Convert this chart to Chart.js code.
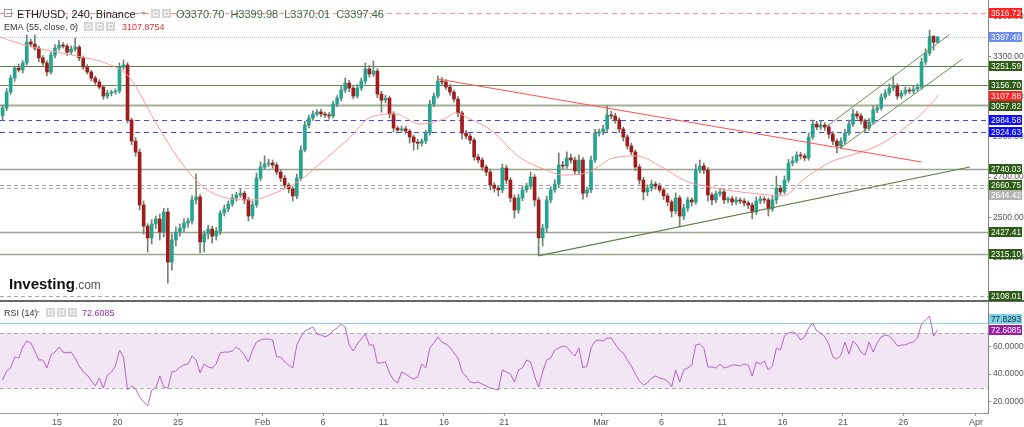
<!DOCTYPE html>
<html>
<head>
<meta charset="utf-8">
<script src="https://cdn.jsdelivr.net/npm/chart.js@4.4.1/dist/chart.umd.min.js"></script>
<style>
  html, body { margin: 0; padding: 0; background: #fff; }
</style>
</head>
<body>
<canvas id="ethChart" width="1024" height="427"></canvas>
<script>
// x axis: days counted from Jan 1 2022 (0 = Jan 1)
const tickDays = [14, 19, 24, 31, 36, 41, 46, 51, 59, 64, 69, 74, 79, 84, 90];
const tickLabels = ['15', '20', '25', 'Feb', '6', '11', '16', '21', 'Mar', '6', '11', '16', '21', '26', 'Apr'];
const priceTicks = [3500, 3400, 3300, 3200, 3100, 3000, 2900, 2800, 2700, 2600, 2500, 2400, 2300, 2200];
const rsiTicks = [20, 40, 60];

// 8h candles starting Jan 10 12:00
const candleStart = 9.5;
const firstOpen = 3005;
const closes = [
  3044, 3123, 3193, 3243, 3233, 3268, 3372, 3362, 3342, 3293,
  3268, 3223, 3307, 3342, 3357, 3352, 3322, 3337, 3347, 3293,
  3248, 3223, 3193, 3173, 3148, 3103, 3118, 3123, 3128, 3248,
  3258, 2984, 2879, 2824, 2561, 2456, 2397, 2466, 2491, 2426,
  2526, 2277, 2387, 2426, 2446, 2471, 2481, 2586, 2601, 2377,
  2417, 2441, 2406, 2431, 2521, 2541, 2566, 2596, 2611, 2620,
  2586, 2506, 2561, 2695, 2750, 2765, 2770, 2760, 2725, 2695,
  2660, 2641, 2606, 2695, 2835, 2959, 2994, 3014, 3024, 3014,
  3009, 3004, 3063, 3093, 3133, 3168, 3143, 3103, 3143, 3178,
  3238, 3213, 3228, 3113, 3083, 3093, 3014, 2944, 2934, 2940,
  2929, 2899, 2874, 2868, 2879, 2919, 3063, 3103, 3178, 3173,
  3148, 3123, 3088, 3019, 2919, 2904, 2884, 2800, 2785, 2750,
  2725, 2660, 2645, 2636, 2745, 2685, 2596, 2536, 2596, 2636,
  2655, 2700, 2586, 2397, 2446, 2586, 2636, 2665, 2760, 2755,
  2795, 2785, 2730, 2785, 2620, 2636, 2785, 2919, 2924, 2939,
  3009, 3004, 2984, 2939, 2899, 2855, 2825, 2750, 2685, 2626,
  2645, 2665, 2655, 2636, 2606, 2576, 2531, 2596, 2506, 2546,
  2586, 2576, 2735, 2755, 2735, 2611, 2586, 2616, 2626, 2586,
  2592, 2576, 2586, 2581, 2571, 2561, 2526, 2581, 2591, 2586,
  2541, 2586, 2645, 2626, 2685, 2770, 2780, 2810, 2805, 2795,
  2899, 2964, 2949, 2959, 2949, 2914, 2879, 2855, 2879, 2919,
  2964, 3014, 3004, 2979, 2944, 2974, 3034, 3044, 3098, 3118,
  3143, 3153, 3103, 3118, 3133, 3128, 3138, 3148, 3273, 3317,
  3400, 3371, 3397.46
];
const wickUp = [
  15, 18, 14, 10, 20, 12, 35, 14, 45, 10,
  12, 10, 14, 18, 22, 12, 10, 16, 45, 8,
  10, 12, 8, 10, 12, 6, 14, 10, 12, 20,
  25, 12, 10, 18, 15, 20, 12, 22, 15, 25,
  18, 20, 30, 25, 20, 22, 15, 20, 115, 12,
  15, 20, 14, 18, 12, 20, 15, 18, 14, 22,
  10, 14, 20, 25, 25, 40, 18, 15, 12, 10,
  14, 10, 12, 20, 20, 18, 14, 16, 12, 14,
  10, 12, 15, 12, 20, 25, 14, 10, 18, 15,
  30, 18, 50, 12, 14, 15, 10, 12, 10, 14,
  12, 8, 10, 14, 12, 15, 20, 15, 25, 18,
  12, 14, 10, 12, 10, 14, 12, 10, 14, 12,
  10, 15, 12, 10, 20, 14, 12, 15, 18, 20,
  15, 25, 12, 14, 18, 20, 16, 22, 60, 18,
  30, 20, 15, 25, 12, 14, 20, 18, 15, 20,
  45, 18, 14, 12, 10, 12, 14, 10, 12, 14,
  16, 20, 12, 14, 10, 12, 10, 25, 12, 18,
  14, 12, 30, 30, 15, 12, 10, 14, 18, 12,
  10, 12, 14, 10, 12, 10, 12, 20, 14, 12,
  10, 20, 60, 14, 20, 18, 22, 16, 14, 12,
  20, 20, 14, 18, 12, 10, 12, 10, 16, 18,
  20, 25, 14, 12, 10, 18, 20, 15, 16, 18,
  20, 45, 12, 14, 16, 12, 14, 16, 20, 22,
  32, 5, 2.5
];
const wickDown = [
  20, 14, 12, 16, 10, 15, 10, 14, 12, 18,
  12, 20, 10, 14, 12, 10, 16, 12, 10, 14,
  12, 10, 14, 12, 10, 16, 12, 14, 10, 10,
  12, 15, 18, 20, 25, 40, 70, 30, 22, 40,
  25, 105, 40, 30, 20, 18, 22, 15, 20, 55,
  50, 25, 35, 20, 18, 15, 14, 12, 16, 12,
  18, 25, 15, 12, 14, 10, 12, 16, 14, 18,
  15, 20, 25, 14, 12, 10, 14, 12, 10, 15,
  12, 16, 10, 12, 14, 12, 18, 14, 10, 12,
  14, 16, 12, 18, 60, 14, 18, 20, 16, 12,
  14, 30, 40, 30, 14, 12, 10, 12, 10, 14,
  12, 16, 14, 20, 30, 14, 18, 16, 14, 16,
  18, 25, 20, 30, 14, 18, 20, 40, 16, 14,
  12, 15, 30, 90, 40, 20, 14, 12, 18, 14,
  12, 16, 18, 14, 30, 20, 14, 12, 16, 14,
  12, 14, 16, 18, 20, 16, 14, 18, 20, 40,
  18, 14, 16, 12, 18, 20, 30, 14, 55, 18,
  16, 20, 12, 14, 18, 30, 25, 14, 12, 18,
  14, 16, 12, 14, 16, 18, 35, 12, 14, 16,
  35, 12, 18, 14, 10, 12, 14, 10, 16, 14,
  12, 10, 14, 12, 16, 20, 18, 35, 12, 14,
  10, 12, 14, 16, 20, 12, 10, 14, 12, 10,
  12, 14, 16, 12, 10, 14, 12, 10, 10, 14,
  12, 40, 1
];
const rsiValues = [
  35.7, 42.3, 44.5, 52.6, 51.8, 59.9, 64.3, 62.9, 57.0, 50.4,
  50.4, 44.5, 54.0, 56.2, 59.9, 56.2, 55.5, 56.2, 51.8, 46.0,
  41.6, 39.3, 35.0, 31.3, 37.1, 29.8, 39.3, 41.6, 46.0, 57.7,
  52.6, 28.3, 31.3, 29.1, 23.2, 19.5, 16.6, 28.3, 29.8, 38.6,
  30.5, 29.8, 41.6, 42.3, 45.2, 46.7, 47.4, 53.3, 50.4, 40.8,
  47.4, 45.2, 44.5, 47.4, 55.5, 56.2, 56.2, 57.0, 59.9, 57.7,
  54.0, 48.9, 57.7, 63.6, 65.1, 65.8, 65.8, 65.1, 52.6, 52.6,
  48.9, 46.7, 44.5, 61.4, 67.3, 71.7, 73.2, 74.6, 69.5, 68.8,
  67.3, 68.8, 71.7, 73.9, 76.8, 74.6, 61.4, 57.0, 62.1, 65.8,
  69.5, 61.4, 61.4, 48.2, 48.2, 48.9, 40.8, 35.7, 33.5, 41.6,
  40.1, 37.9, 36.4, 37.9, 47.4, 44.5, 59.2, 62.9, 67.3, 63.6,
  62.1, 59.9, 55.5, 51.8, 41.6, 38.6, 34.2, 33.5, 34.2, 32.7,
  31.3, 29.8, 29.1, 28.3, 43.0, 41.6, 40.1, 34.2, 43.0, 44.5,
  50.4, 48.9, 38.6, 30.5, 41.6, 50.4, 51.8, 57.7, 59.2, 60.7,
  59.9, 56.2, 53.3, 59.2, 44.5, 46.0, 59.2, 64.3, 65.1, 64.3,
  66.5, 66.5, 62.1, 57.7, 55.5, 50.4, 46.0, 40.1, 35.0, 32.0,
  33.5, 37.1, 38.6, 37.1, 36.4, 35.0, 30.5, 43.0, 34.2, 43.0,
  44.5, 46.7, 61.4, 62.1, 59.2, 45.2, 45.2, 44.5, 47.4, 44.5,
  45.2, 46.7, 46.7, 46.0, 47.4, 46.7, 38.6, 48.9, 47.4, 49.6,
  43.0, 46.0, 59.2, 57.7, 68.0, 70.2, 71.0, 69.5, 65.1, 67.3,
  73.9, 77.6, 71.7, 70.2, 67.3, 62.1, 52.6, 51.1, 54.0, 63.6,
  54.7, 64.3, 61.4, 56.2, 54.0, 63.6, 56.2, 62.9, 67.3, 68.8,
  68.0, 65.1, 60.7, 61.4, 61.4, 62.9, 63.6, 66.5, 76.8, 79.8,
  82.7, 68.0, 72.6
];

// EMA(55)
const emaDays = [9.3, 10, 12, 14, 16, 18, 20, 22, 24, 26, 28, 30, 32, 34, 36, 38, 40, 42, 44, 46,
  47, 48, 50, 52, 54, 56, 58, 60, 62, 64, 66, 68, 70, 72, 74, 76, 78, 80, 82, 84, 86, 86.9];
const emaValues = [3399, 3382, 3347, 3322, 3298, 3268, 3195, 2989, 2795, 2655, 2596, 2586, 2620, 2680, 2780, 2884, 2999, 3014, 2964, 2989,
  3020, 2994, 2929, 2810, 2745, 2710, 2725, 2795, 2805, 2750, 2680, 2650, 2630, 2616, 2606, 2700, 2775, 2815, 2860, 2939, 3044, 3108];

// horizontal levels
const levelPrices = [3516.72, 3397.46, 3251.59, 3156.70, 3057.82, 2984.58, 2924.63, 2740.03, 2660.75, 2644.42, 2427.41, 2315.10, 2108.01];
const emaLast = 3107.88;

// trend lines [day, price]
const resistanceLine = [[45.5, 3188], [85.5, 2775]];
const supportLine = [[53.9, 2309], [89.5, 2750]];
const channelTop = [[77.7, 2954], [87.8, 3409]];
const channelBottom = [[78.8, 2845], [88.9, 3288]];

// RSI guides
const rsiBand = [70, 30];
const rsiMarker = 77.8293;
const rsiLast = 72.6085;

// ---- styles ----
function hasFont(name) {
  const c = document.createElement('canvas').getContext('2d');
  c.font = '20px monospace';
  const a = c.measureText('3516.72 Feb Mar').width;
  c.font = "20px '" + name + "', monospace";
  return c.measureText('3516.72 Feb Mar').width !== a;
}
const uiFont = "'Liberation Sans', Arial, sans-serif";
const hasNarrow = hasFont('Liberation Sans Narrow');
const axisFont = hasNarrow ? "'Liberation Sans Narrow', sans-serif" : uiFont;
const axisSize = hasNarrow ? 9 : 8.5;
const UP = '#25a48f';
const DOWN = '#a01b1b';
const levelStyles = [
  { color: '#ff8c8c', dash: [5, 4], width: 1, box: '#ff2020' },
  { color: '#aab9f2', dash: [1, 1], width: 1, box: '#6d8ded' },
  { color: '#5c7c45', dash: [], width: 1, box: '#2d5c15' },
  { color: '#6b8757', dash: [], width: 1, box: '#2d5c15' },
  { color: '#a3ae98', dash: [], width: 2, box: '#2d5c15' },
  { color: '#4646f5', dash: [5, 4], width: 1, box: '#0a0aff' },
  { color: '#4646f5', dash: [5, 4], width: 1, box: '#0a0aff' },
  { color: '#97a38b', dash: [], width: 1.5, box: '#2d5c15' },
  { color: '#a6a6a6', dash: [4, 3], width: 1, box: '#2d5c15' },
  { color: '#b0b0b0', dash: [4, 3], width: 1, box: '#b4b4b4' },
  { color: '#97a38b', dash: [], width: 1.5, box: '#2d5c15' },
  { color: '#97a38b', dash: [], width: 1.5, box: '#2d5c15' },
  { color: '#a6a6a6', dash: [4, 3], width: 1, box: '#2d5c15' }
];

// build candle data
const candleDay = i => candleStart + i / 3;
const opens = closes.map((c, i) => i === 0 ? firstOpen : closes[i - 1]);
const bodyData = closes.map((c, i) => ({ x: candleDay(i), y: [opens[i], c] }));
const wickData = closes.map((c, i) => ({
  x: candleDay(i),
  y: [Math.min(opens[i], c) - wickDown[i], Math.max(opens[i], c) + wickUp[i]]
}));
const rsiData = rsiValues.map((v, i) => ({ x: candleDay(i), y: v }));
const emaData = emaDays.map((d, i) => ({ x: d, y: emaValues[i] }));
const toPts = line => line.map(p => ({ x: p[0], y: p[1] }));
const candleColor = c => closes[c.dataIndex] >= opens[c.dataIndex] ? UP : DOWN;

function drawBox(ctx, x, yc, w, h, bg, fg, text) {
  const top = Math.round(yc - h / 2);
  ctx.fillStyle = bg;
  ctx.fillRect(x, top, w, h);
  ctx.fillStyle = fg;
  ctx.textAlign = 'left';
  ctx.textBaseline = 'middle';
  const tw = ctx.measureText(text).width;
  const room = w - 3;
  ctx.save();
  ctx.translate(x + 2, top + h / 2 + 0.5);
  if (tw > room) ctx.scale(room / tw, 1);
  ctx.fillText(text, 0, 0);
  ctx.restore();
}

function smallIcon(ctx, x, y) {
  ctx.fillStyle = '#d6d6d6';
  ctx.fillRect(x, y, 9, 9);
  ctx.strokeStyle = '#f4f4f4';
  ctx.lineWidth = 1;
  ctx.strokeRect(x + 2.5, y + 2.5, 4, 4);
}

function dropArrow(ctx, x, y) {
  ctx.fillStyle = '#aaa';
  ctx.beginPath();
  ctx.moveTo(x, y); ctx.lineTo(x + 6, y); ctx.lineTo(x + 3, y + 3);
  ctx.closePath();
  ctx.fill();
}

const overlay = {
  id: 'overlay',
  beforeDatasetsDraw(chart) {
    const { ctx, chartArea: a, scales } = chart;
    const py = scales.y, ry = scales.yRsi;
    ctx.save();
    // RSI band
    const y70 = ry.getPixelForValue(rsiBand[0]);
    const y30 = ry.getPixelForValue(rsiBand[1]);
    ctx.fillStyle = '#f2e5f4';
    ctx.fillRect(a.left, y70, a.right - a.left, y30 - y70);
    ctx.strokeStyle = '#b0a6b0';
    ctx.lineWidth = 1;
    ctx.setLineDash([4, 3]);
    [y70, y30].forEach(yy => {
      ctx.beginPath();
      ctx.moveTo(a.left, Math.round(yy) + 0.5);
      ctx.lineTo(a.right, Math.round(yy) + 0.5);
      ctx.stroke();
    });
    ctx.setLineDash([]);
    const ym = Math.round(ry.getPixelForValue(rsiMarker)) + 0.5;
    ctx.strokeStyle = '#8ed2e2';
    ctx.beginPath(); ctx.moveTo(a.left, ym); ctx.lineTo(a.right, ym); ctx.stroke();

    // price levels
    levelPrices.forEach((v, i) => {
      const s = levelStyles[i];
      const yy = Math.round(py.getPixelForValue(v)) + 0.5;
      ctx.strokeStyle = s.color;
      ctx.lineWidth = s.width;
      ctx.setLineDash(s.dash);
      ctx.beginPath();
      ctx.moveTo(a.left, yy);
      ctx.lineTo(a.right, yy);
      ctx.stroke();
    });
    ctx.restore();
  },
  afterDraw(chart) {
    const { ctx, chartArea: a, scales } = chart;
    const py = scales.y, ry = scales.yRsi;
    ctx.save();

    // panel separator
    ctx.fillStyle = '#666';
    ctx.fillRect(0, Math.round(py.bottom) - 1, 1024, 2);

    // price axis boxes
    ctx.font = '9px ' + axisFont;
    const boxes = levelPrices.map((v, i) => ({ v, y: py.getPixelForValue(v), bg: levelStyles[i].box }));
    boxes.push({ v: emaLast, y: py.getPixelForValue(emaLast), bg: '#ff2020' });
    boxes.sort((p, q) => p.y - q.y);
    for (let i = 1; i < boxes.length; i++) {
      if (boxes[i].y - boxes[i - 1].y < 10.5) boxes[i].y = boxes[i - 1].y + 10.5;
    }
    boxes.forEach(b => drawBox(ctx, a.right + 1, b.y, 33, 10, b.bg, '#fff', b.v.toFixed(2)));

    // RSI axis boxes
    const yLast = ry.getPixelForValue(rsiLast);
    const yMark = Math.min(ry.getPixelForValue(rsiMarker), yLast - 11);
    drawBox(ctx, a.right + 1, yMark, 33, 10, '#7fd0e2', '#10303c', rsiMarker.toFixed(4));
    drawBox(ctx, a.right + 1, yLast, 33, 10, '#9b1fa6', '#fff', rsiLast.toFixed(4));

    // header
    ctx.textAlign = 'left';
    ctx.textBaseline = 'alphabetic';
    ctx.strokeStyle = '#999';
    ctx.lineWidth = 1;
    ctx.strokeRect(4.5, 9.5, 7, 7);
    ctx.beginPath(); ctx.moveTo(6, 13.5); ctx.lineTo(10, 13.5); ctx.stroke();
    ctx.font = '11px ' + uiFont;
    ctx.fillStyle = '#222';
    ctx.fillText('ETH/USD, 240, Binance', 17, 18);
    dropArrow(ctx, 140, 12);
    smallIcon(ctx, 151, 9);
    smallIcon(ctx, 162, 9);
    ctx.fillStyle = '#3a6a45';
    ctx.fillText('O3370.70  H3399.98  L3370.01  C3397.46', 176, 18);

    ctx.font = '9px ' + uiFont;
    ctx.fillStyle = '#333';
    ctx.fillText('EMA (55, close, 0)', 4, 30);
    dropArrow(ctx, 72, 25);
    smallIcon(ctx, 84, 22);
    smallIcon(ctx, 95, 22);
    smallIcon(ctx, 106, 22);
    ctx.fillStyle = '#e53030';
    ctx.fillText('3107.8754', 122, 30);

    ctx.fillStyle = '#333';
    ctx.fillText('RSI (14)', 4, 316);
    dropArrow(ctx, 34, 311);
    smallIcon(ctx, 46, 308);
    smallIcon(ctx, 57, 308);
    smallIcon(ctx, 68, 308);
    ctx.fillStyle = '#9c2fae';
    ctx.fillText(rsiLast.toFixed(4), 82, 316);

    // logo
    ctx.font = 'bold 15px ' + uiFont;
    ctx.fillStyle = '#111';
    ctx.fillText('Investing', 9, 289);
    const w = ctx.measureText('Investing').width;
    ctx.font = '12px ' + uiFont;
    ctx.fillStyle = '#555';
    ctx.fillText('.com', 9 + w, 289);
    ctx.restore();
  }
};

const noPad = s => { s.paddingTop = 0; s.paddingBottom = 0; s.paddingLeft = 0; s.paddingRight = 0; };

new Chart(document.getElementById('ethChart'), {
  type: 'bar',
  data: {
    datasets: [
      { type: 'line', label: 'RSI (14)', data: rsiData, yAxisID: 'yRsi', borderColor: '#b566c5', borderWidth: 1, pointRadius: 0, order: 1 },
      { type: 'line', label: 'Resistance', data: toPts(resistanceLine), yAxisID: 'y', borderColor: '#ff5555', borderWidth: 1.2, pointRadius: 0, order: 2 },
      { type: 'line', label: 'Support', data: toPts(supportLine), yAxisID: 'y', borderColor: '#5e7e4a', borderWidth: 1.2, pointRadius: 0, order: 2 },
      { type: 'line', label: 'Channel top', data: toPts(channelTop), yAxisID: 'y', borderColor: '#6b8a58', borderWidth: 1, pointRadius: 0, order: 2 },
      { type: 'line', label: 'Channel bottom', data: toPts(channelBottom), yAxisID: 'y', borderColor: '#6b8a58', borderWidth: 1, pointRadius: 0, order: 2 },
      { type: 'line', label: 'EMA 55', data: emaData, yAxisID: 'y', borderColor: '#f59a9a', borderWidth: 1, pointRadius: 0, cubicInterpolationMode: 'monotone', order: 3 },
      { type: 'bar', label: 'Body', data: bodyData, yAxisID: 'y', backgroundColor: candleColor, barThickness: 3, grouped: false, borderWidth: 0, order: 4 },
      { type: 'bar', label: 'Wick', data: wickData, yAxisID: 'y', backgroundColor: '#72826f', barThickness: 1, grouped: false, borderWidth: 0, order: 5 }
    ]
  },
  options: {
    responsive: false,
    animation: false,
    devicePixelRatio: 1,
    events: [],
    layout: { padding: 0 },
    plugins: { legend: { display: false }, tooltip: { enabled: false } },
    scales: {
      x: {
        type: 'linear', position: 'bottom', min: 9.285, max: 91.0, offset: false,
        afterBuildTicks: s => { s.ticks = tickDays.map(v => ({ value: v })); },
        afterFit: s => { s.height = 14; noPad(s); },
        ticks: { autoSkip: false, maxRotation: 0, padding: 1, color: '#555',
          font: { family: axisFont, size: 9 }, callback: (v, i) => tickLabels[i] },
        grid: { offset: false, drawOnChartArea: false, tickLength: 3, color: '#999' },
        border: { color: '#999' }
      },
      y: {
        type: 'linear', position: 'right', stack: 'panes', stackWeight: 301,
        min: 2083, max: 3581.4,
        afterBuildTicks: s => { s.ticks = priceTicks.map(v => ({ value: v })); },
        afterFit: s => { s.width = 36; noPad(s); },
        ticks: { padding: 2, color: '#555', font: { family: axisFont, size: axisSize }, callback: v => v.toFixed(2) },
        grid: { drawOnChartArea: false, tickLength: 3, color: '#888' },
        border: { color: '#888' }
      },
      yRsi: {
        type: 'linear', position: 'right', stack: 'panes', stackWeight: 112,
        min: 11.4, max: 93.75,
        afterBuildTicks: s => { s.ticks = rsiTicks.map(v => ({ value: v })); },
        afterFit: s => { s.width = 36; noPad(s); },
        ticks: { padding: 2, color: '#555', font: { family: axisFont, size: axisSize }, callback: v => v.toFixed(4) },
        grid: { drawOnChartArea: false, tickLength: 3, color: '#888' },
        border: { color: '#888' }
      }
    }
  },
  plugins: [overlay]
});
</script>
</body>
</html>
